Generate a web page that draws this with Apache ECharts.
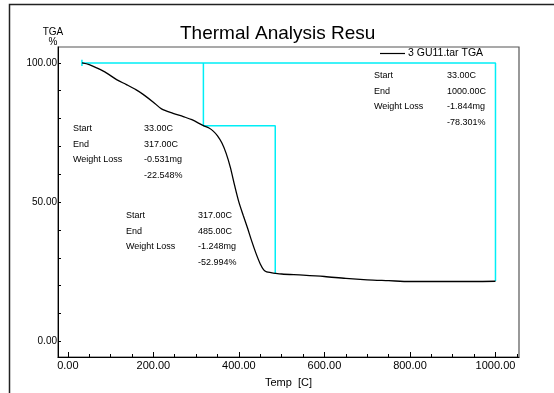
<!DOCTYPE html>
<html>
<head>
<meta charset="utf-8">
<script src="https://cdn.jsdelivr.net/npm/echarts@6/dist/echarts.min.js"></script>
<style>
    html, body {margin: 0; padding: 0; background: #fff;}
    #chart {width: 554px; height: 393px;}
</style>
</head>
<body>
<div id="chart"></div>
<script>
// TGA curve
const temps = [33, 50, 70, 90, 114, 137, 160, 176, 200, 219, 246, 270, 290, 317,
    330, 340, 350, 360, 370, 380, 390, 400, 410, 420, 430, 440, 450, 458, 465, 475, 485,
    500, 550, 600, 650, 700, 750, 800, 850, 900, 950, 1000];
const weights = [100, 99.4, 98.0, 96.4, 94.0, 92.2, 90.3, 88.7, 85.9, 83.5, 81.9, 80.7, 79.6, 77.45,
    76.6, 75.5, 73.8, 71.3, 67.6, 62.5, 56.0, 50.0, 45.3, 40.8, 36.0, 31.6, 27.8, 25.7, 25.0, 24.7, 24.46,
    24.2, 23.8, 23.3, 22.6, 22.1, 21.8, 21.5, 21.5, 21.5, 21.5, 21.6];

// analysis steps (cyan)
const stepAll = [[33, 100], [1000, 100], [1000, 21.7]];
const stepParts = [[317, 100], [317, 77.45], [485, 77.45], [485, 24.46]];
const startMark = [[33, 98.9], [33, 101.1]];

const xTicks = [0, 50, 100, 150, 200, 250, 300, 350, 400, 450, 500, 550, 600, 650, 700, 750, 800, 850, 900, 950, 1000, 1050];
const xLabels = [0, 200, 400, 600, 800, 1000];
const yTicks = [0, 10, 20, 30, 40, 50, 60, 70, 80, 90, 100];
const yLabels = [0, 50, 100];

const seriesName = '3 GU11.tar TGA';
const stepKeys = ['Start', 'End', 'Weight Loss', ''];
const stepTotal = ['33.00C', '1000.00C', '-1.844mg', '-78.301%'];
const stepOne = ['33.00C', '317.00C', '-0.531mg', '-22.548%'];
const stepTwo = ['317.00C', '485.00C', '-1.248mg', '-52.994%'];

const font = 'Liberation Sans, Arial, sans-serif';
const cyan = '#00eef6';

function block(x1, x2, y0, values) {
    const out = [];
    values.forEach((v, i) => {
        const y = y0 + i * 15.4;
        if (stepKeys[i]) {
            out.push({type: 'text', x: x1, y: y, style: {text: stepKeys[i], font: '9px ' + font, fill: '#000', verticalAlign: 'middle'}});
        }
        out.push({type: 'text', x: x2, y: y, style: {text: v, font: '9px ' + font, fill: '#000', verticalAlign: 'middle'}});
    });
    return out;
}

const chart = echarts.init(document.getElementById('chart'));
chart.setOption({
    animation: false,
    textStyle: {fontFamily: font},
    title: {
        text: 'Thermal Analysis Resu',
        left: 180,
        top: 24,
        padding: 0,
        textStyle: {fontSize: 19, fontWeight: 'normal', color: '#000', fontFamily: font}
    },
    legend: {
        data: [{name: seriesName, icon: 'rect'}],
        left: 380,
        top: 48,
        padding: 0,
        itemWidth: 25,
        itemHeight: 1.2,
        itemGap: 3,
        itemStyle: {color: '#000'},
        textStyle: {fontSize: 10.5, color: '#000', padding: [0, 0, 0, -2]}
    },
    grid: {
        left: 58,
        top: 47,
        width: 461,
        height: 311,
        show: true,
        borderColor: '#555',
        borderWidth: 1.2
    },
    xAxis: [
        {
            type: 'value',
            min: -23,
            max: 1055,
            position: 'bottom',
            axisLine: {show: true, onZero: false, lineStyle: {color: '#000'}},
            axisTick: {show: true, inside: true, length: 3, customValues: xTicks, lineStyle: {color: '#000'}},
            axisLabel: {show: false},
            splitLine: {show: false}
        },
        {
            type: 'value',
            min: -23,
            max: 1055,
            position: 'bottom',
            name: 'Temp  [C]',
            nameLocation: 'middle',
            nameGap: 20,
            nameTextStyle: {fontSize: 11, color: '#000'},
            axisLine: {show: false, onZero: false},
            axisTick: {show: true, inside: true, length: 5, customValues: xLabels, lineStyle: {color: '#000'}},
            axisLabel: {
                customValues: xLabels,
                fontSize: 11,
                color: '#000',
                margin: 3,
                formatter: v => v.toFixed(2)
            },
            splitLine: {show: false}
        }
    ],
    yAxis: [
        {
            type: 'value',
            min: -5.6,
            max: 105.7,
            axisLine: {show: true, onZero: false, lineStyle: {color: '#000'}},
            axisTick: {show: true, inside: true, length: 3, customValues: yTicks, lineStyle: {color: '#000'}},
            axisLabel: {
                customValues: yLabels,
                fontSize: 10,
                color: '#000',
                margin: 1,
                formatter: v => v.toFixed(2)
            },
            splitLine: {show: false}
        }
    ],
    graphic: [
        {type: 'rect', shape: {x: 9.5, y: 4.5, width: 700, height: 500}, style: {fill: 'none', stroke: '#222', lineWidth: 1.5}, silent: true},
        {type: 'text', x: 53, y: 32, style: {text: 'TGA', font: '10px ' + font, fill: '#000', align: 'center', verticalAlign: 'middle'}},
        {type: 'text', x: 53, y: 42, style: {text: '%', font: '10px ' + font, fill: '#000', align: 'center', verticalAlign: 'middle'}},
        ...block(374, 447, 76, stepTotal),
        ...block(73, 144, 129, stepOne),
        ...block(126, 198, 216, stepTwo)
    ],
    series: [
        {
            name: seriesName,
            type: 'line',
            symbol: 'none',
            smooth: 0.3,
            lineStyle: {color: '#000', width: 1.3},
            itemStyle: {color: '#000'},
            data: temps.map((t, i) => [t, weights[i]]),
            z: 3
        },
        {
            type: 'line',
            symbol: 'none',
            lineStyle: {color: cyan, width: 1.5},
            data: stepAll,
            z: 2
        },
        {
            type: 'line',
            symbol: 'none',
            lineStyle: {color: cyan, width: 1.5},
            data: stepParts,
            z: 2
        },
        {
            type: 'line',
            symbol: 'none',
            lineStyle: {color: cyan, width: 1.5},
            data: startMark,
            z: 2
        }
    ]
});
</script>
</body>
</html>
